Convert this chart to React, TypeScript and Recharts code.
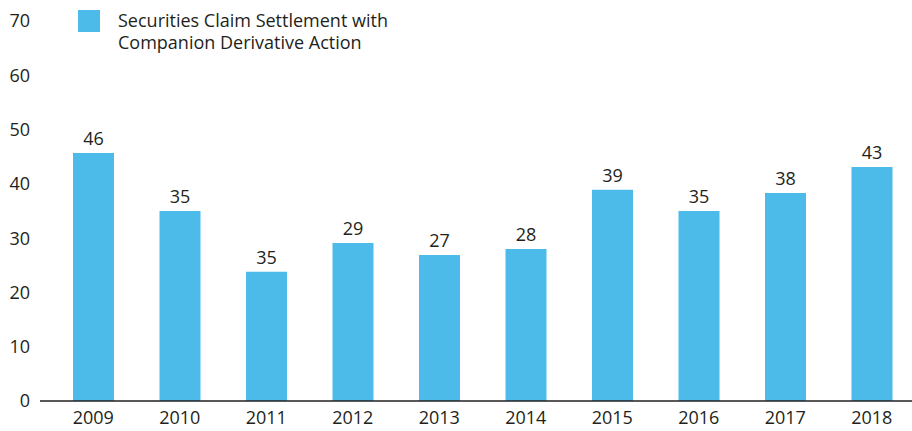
import { BarChart, Bar, XAxis, YAxis, LabelList } from "recharts";

const years = ["2009", "2010", "2011", "2012", "2013", "2014", "2015", "2016", "2017", "2018"];
const settlements = [45.7, 35, 23.8, 29.1, 26.9, 28, 38.9, 35, 38.3, 43.1];
const barLabels = ["46", "35", "35", "29", "27", "28", "39", "35", "38", "43"];
const yTicks = [0, 10, 20, 30, 40, 50, 60, 70];

const seriesName = ["Securities Claim Settlement with", "Companion Derivative Action"];

const data = years.map((year, i) => ({
    year,
    value: settlements[i],
    label: barLabels[i],
}));

const FONT = "'Open Sans', sans-serif";
const INK = "#231f20";
const BLUE = "#4cbbea";

// legend drawn as an overlay so it doesn't push the plot down
function LegendBox() {
    return (
        <div
            style={{
                position: "absolute",
                left: 78,
                top: 9,
                display: "flex",
                alignItems: "flex-start",
                fontFamily: FONT,
                fontSize: 18,
                color: INK,
                lineHeight: "22px",
            }}
        >
            <div style={{ width: 22, height: 22, background: BLUE, marginTop: 1, marginRight: 18 }} />
            <div>
                {seriesName.map((line) => (
                    <div key={line}>{line}</div>
                ))}
            </div>
        </div>
    );
}

export default function App() {
    return (
        <div style={{ position: "absolute", left: 0, top: 0, width: 912, height: 431, background: "#fff" }}>
            <BarChart
                width={912}
                height={431}
                data={data}
                margin={{ top: 21, right: -3, bottom: 0, left: 0 }}
            >
                <XAxis
                    dataKey="year"
                    height={30}
                    padding={{ left: 10, right: 0 }}
                    tickLine={false}
                    tickSize={0}
                    tickMargin={10}
                    axisLine={{ stroke: INK, strokeWidth: 1.4 }}
                    tick={{ fill: INK, fontSize: 18, fontFamily: FONT }}
                />
                <YAxis
                    width={40}
                    domain={[0, 70]}
                    ticks={yTicks}
                    axisLine={false}
                    tickLine={false}
                    tickSize={0}
                    tickMargin={10}
                    tick={{ fill: INK, fontSize: 18, fontFamily: FONT }}
                />
                <Bar dataKey="value" fill={BLUE} barSize={41} isAnimationActive={false}>
                    <LabelList
                        dataKey="label"
                        position="top"
                        offset={8}
                        style={{ fill: INK, fontSize: 18, fontFamily: FONT }}
                    />
                </Bar>
            </BarChart>
            <LegendBox />
        </div>
    );
}
